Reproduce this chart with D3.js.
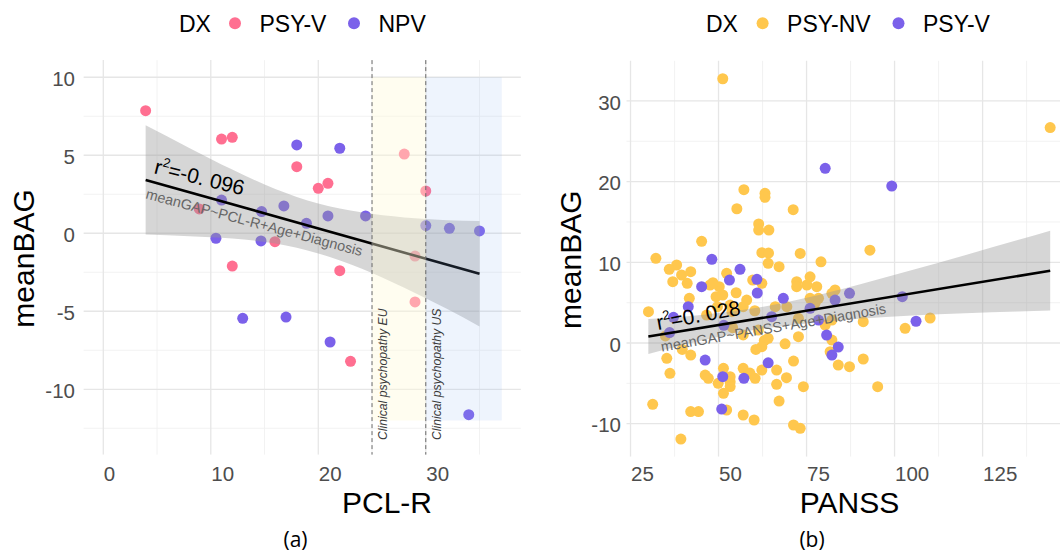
<!DOCTYPE html>
<html>
<head>
<meta charset="utf-8">
<script src="https://cdn.jsdelivr.net/npm/d3@7"></script>
<style>
  body { margin: 0; background: #fff; }
  svg { font-family: "Liberation Sans", Arial, sans-serif; }
</style>
</head>
<body>
<svg id="chart" width="1060" height="556"></svg>
<script>
// ---- panel (a): PCL-R vs meanBAG ----
const pclPsyV = [[3.94, 7.86], [11.0, 6.04], [12.0, 6.15], [18.0, 4.27], [20.0, 2.88], [20.9, 3.2],
  [8.93, 1.56], [15.97, -0.54], [12.0, -2.1], [28.0, 5.08], [30.0, 2.71], [29.0, -1.46],
  [22.0, -2.4], [29.0, -4.4], [23.0, -8.21]];
const pclNpv = [[18.0, 5.66], [22.0, 5.45], [11.0, 2.13], [14.73, 1.39], [16.8, 1.75], [18.9, 0.64],
  [20.9, 1.11], [24.4, 1.11], [10.48, -0.32], [14.67, -0.49], [30.0, 0.49], [32.2, 0.32],
  [35.0, 0.15], [12.97, -5.45], [17.0, -5.37], [21.1, -6.97], [34.0, -11.63]];
const pclFitX = [3.94, 35.0];
const pclFitY = [3.42, -2.6];
const pclBandX = [3.94, 8, 12, 16, 20, 24, 28, 32, 35];
const pclBandHi = [6.92, 5.47, 4.08, 2.84, 1.91, 1.34, 1.01, 0.84, 0.78];
const pclBandLo = [-0.08, -0.19, -0.34, -0.66, -1.29, -2.26, -3.49, -4.86, -5.98];
const pclTicks = [0, 10, 20, 30];
const pclMinor = [5, 15, 25, 35];
const bagTicksA = [-10, -5, 0, 5, 10];
const bagMinorA = [-12.5, -7.5, -2.5, 2.5, 7.5];
const cutoffs = [25, 30];
const cutoffLabels = ["Clinical psychopathy EU", "Clinical psychopathy US"];
const zoneX0 = [25, 30];
const zoneX1 = [30, 37.07];
const zoneY = [-12, 10];

// ---- panel (b): PANSS vs meanBAG ----
const panssNv = [[51.2, 32.75], [144.2, 26.7], [57.2, 19.0], [63.2, 18.55], [63.2, 18.05], [55.2, 16.64],
  [71.2, 16.52], [61.4, 14.75], [61.4, 14.0], [64.3, 14.0], [45.2, 12.6],
  [62.3, 11.2], [64.2, 11.15], [73.2, 11.1], [93.0, 11.5], [64.1, 9.88], [67.2, 9.46], [79.1, 10.07],
  [62.3, 7.4], [72.2, 7.6], [72.2, 6.98], [76.0, 8.2], [75.1, 7.19], [77.9, 6.98], [83.1, 6.57],
  [82.2, 6.16], [76.0, 5.54], [78.4, 5.54], [66.1, 4.5], [69.4, 4.5], [77.4, 4.92], [72.7, 3.06],
  [82.2, 2.85], [91.1, 2.64], [61.3, 1.61], [64.1, 0.58], [72.7, 0.78], [80.3, 2.23], [82.2, 0.37],
  [103.0, 1.82], [68.9, -0.1], [110.1, 3.1],
  [32.2, 10.5], [38.1, 9.67], [36.0, 9.13], [39.5, 8.43], [42.1, 8.84], [37.0, 7.6], [41.1, 7.4],
  [47.6, 7.19], [50.2, 6.98], [52.3, 8.64], [48.4, 7.47], [59.7, 7.8], [55.0, 6.23], [58.0, 5.33],
  [41.7, 5.54], [49.3, 5.74], [51.2, 5.95], [49.7, 4.5], [53.3, 4.7], [30.1, 3.88], [46.6, 3.47],
  [53.8, 3.88], [57.0, 4.5], [60.3, 4.0], [57.0, 1.0], [34.9, 0.88], [63.0, 0.3], [54.0, 1.9],
  [35.3, -1.9], [42.1, -1.49], [39.7, -0.8], [36.2, -3.75], [46.2, -3.97], [47.1, -4.38],
  [51.4, -3.14], [49.9, -5.0], [53.3, -4.79], [53.3, -4.17], [53.3, -5.4], [57.0, -3.14],
  [58.9, -3.73], [60.4, -4.38], [51.4, -6.23], [31.3, -7.6], [42.1, -8.5], [44.3, -8.5],
  [52.3, -8.3], [57.0, -8.92], [60.1, -9.54], [39.3, -11.9], [62.3, -0.46], [60.6, -0.8],
  [81.7, -1.08], [84.0, -2.73], [87.2, -2.93], [91.1, -1.98], [95.2, -5.41], [62.3, -3.35],
  [66.5, -3.35], [66.5, -5.12], [69.3, -4.3], [71.3, -2.23], [74.1, -5.41], [67.2, -7.19],
  [71.3, -10.16], [73.2, -10.57]];
const panssV = [[80.3, 21.65], [99.2, 19.45], [48.1, 10.37], [45.2, 6.98], [53.1, 7.8], [56.1, 9.13],
  [60.9, 7.9], [61.0, 6.2], [87.2, 6.16], [68.4, 5.54], [83.1, 5.33], [102.2, 5.74], [76.0, 4.3],
  [65.1, 3.26], [78.4, 2.85], [80.7, 0.99], [84.0, -0.5], [41.4, 4.5], [37.2, 3.18], [36.1, 1.3],
  [51.5, 2.2], [106.1, 2.7], [46.2, -2.11], [51.2, -4.17], [57.2, -4.38], [50.9, -8.18],
  [64.1, -2.45], [82.2, -1.49]];
const panssFitX = [30.06, 144.2];
const panssFitY = [0.8, 8.96];
const panssBandX = [30.06, 45, 60, 75, 90, 105, 120, 135, 144.2];
const panssBandHi = [2.97, 3.47, 4.3, 5.62, 7.26, 9.04, 10.89, 12.76, 13.91];
const panssBandLo = [-1.37, 0.27, 1.6, 2.42, 3.0, 3.4, 3.7, 3.9, 4.03];
const panssTicks = [25, 50, 75, 100, 125];
const panssMinor = [37.5, 62.5, 87.5, 112.5, 137.5];
const bagTicksB = [-10, 0, 10, 20, 30];
const bagMinorB = [-5, 5, 15, 25];

const FONT = '"Liberation Sans", Arial, sans-serif';
const PINK = "#FF6F91", PURPLE = "#7B61EA", YELLOW = "#FFC74D";

const svg = d3.select("#chart");

function drawPanel(o) {
  const x = d3.scaleLinear().domain(o.xDomain).range(o.xRange);
  const y = d3.scaleLinear().domain(o.yDomain).range(o.yRange);
  const [left, right] = o.xRange, [bottom, top] = o.yRange;

  svg.append("clipPath").attr("id", o.id)
    .append("rect").attr("x", left).attr("y", top)
    .attr("width", right - left).attr("height", bottom - top);
  const plot = svg.append("g").attr("clip-path", `url(#${o.id})`);

  // grid
  plot.selectAll(null).data(o.xMinor).join("line")
    .attr("x1", d => x(d)).attr("x2", d => x(d)).attr("y1", top).attr("y2", bottom)
    .attr("stroke", "#f0f0f0").attr("stroke-width", 0.9);
  plot.selectAll(null).data(o.yMinor).join("line")
    .attr("y1", d => y(d)).attr("y2", d => y(d)).attr("x1", left).attr("x2", right)
    .attr("stroke", "#f0f0f0").attr("stroke-width", 0.9);
  plot.selectAll(null).data(o.xTicks).join("line")
    .attr("x1", d => x(d)).attr("x2", d => x(d)).attr("y1", top).attr("y2", bottom)
    .attr("stroke", "#e6e6e6").attr("stroke-width", 1.3);
  plot.selectAll(null).data(o.yTicks).join("line")
    .attr("y1", d => y(d)).attr("y2", d => y(d)).attr("x1", left).attr("x2", right)
    .attr("stroke", "#e6e6e6").attr("stroke-width", 1.3);

  // points
  o.groups.forEach(gr => {
    plot.append("g").selectAll("circle").data(gr.data).join("circle")
      .attr("cx", d => x(d[0])).attr("cy", d => y(d[1])).attr("r", 5.5)
      .attr("fill", gr.color);
  });

  // confidence band + fit
  const band = d3.zip(o.bandX, o.bandLo, o.bandHi);
  plot.append("path").datum(band)
    .attr("d", d3.area().x(d => x(d[0])).y0(d => y(d[1])).y1(d => y(d[2])).curve(d3.curveMonotoneX))
    .attr("fill", "#999").attr("fill-opacity", 0.4);
  plot.append("path").datum(d3.zip(o.fitX, o.fitY))
    .attr("d", d3.line().x(d => x(d[0])).y(d => y(d[1])))
    .attr("stroke", "#000").attr("stroke-width", 2.6).attr("fill", "none");

  // axes (plain hyphen minus, as in the figure)
  const fmt = d => String(d);
  const ax = svg.append("g").attr("transform", `translate(0,${bottom})`)
    .call(d3.axisBottom(x).tickValues(o.xTicks).tickFormat(fmt).tickSize(0).tickPadding(0))
    .attr("font-family", FONT).attr("font-size", 20.5).attr("color", "#4d4d4d");
  ax.select(".domain").remove();
  ax.selectAll("text").attr("text-anchor", "start").attr("y", o.xLabelDy).attr("dy", 0);

  const ay = svg.append("g").attr("transform", `translate(${o.yLabelX},0)`)
    .call(d3.axisLeft(y).tickValues(o.yTicks).tickFormat(fmt).tickSize(0).tickPadding(0))
    .attr("font-family", FONT).attr("font-size", 20.5).attr("color", "#4d4d4d");
  ay.select(".domain").remove();
  ay.selectAll("text").attr("dy", "0.4em");

  // titles
  svg.append("text").attr("x", o.xTitleX).attr("y", 513)
    .attr("text-anchor", "middle").attr("font-size", 30).text(o.xTitle);
  svg.append("text")
    .attr("transform", `translate(${o.yTitleX},${(top + bottom) / 2 + 1}) rotate(-90)`)
    .attr("text-anchor", "middle").attr("font-size", 30).text("meanBAG");

  // annotation
  const r = o.r2;
  const rt = svg.append("text")
    .attr("transform", `translate(${x(r.x)},${y(r.y)}) rotate(${r.angle})`)
    .attr("font-size", 21).attr("fill", "#000");
  rt.append("tspan").text("r");
  rt.append("tspan").attr("font-size", 13).attr("dy", -9).text("2");
  rt.append("tspan").attr("dy", 9).text(r.text);
  const f = o.formula;
  svg.append("text")
    .attr("transform", `translate(${x(f.x)},${y(f.y)}) rotate(${f.angle})`)
    .attr("font-size", 14.4).attr("fill", "#666").text(f.text);

  // legend
  svg.append("text").attr("x", o.legendX).attr("y", 31.5).attr("font-size", 23).text("DX");
  o.groups.forEach(gr => {
    svg.append("circle").attr("cx", gr.legendDot).attr("cy", 23.3).attr("r", 6).attr("fill", gr.color);
    svg.append("text").attr("x", gr.legendDot + 24.5).attr("y", 31.5).attr("font-size", 23).text(gr.name);
  });

  return { x, y, plot, top, bottom };
}

const A = drawPanel({
  id: "clipA", xDomain: [-1.85, 38.85], xRange: [83.4, 520.9],
  yDomain: [-14.2, 11.1], yRange: [454.8, 60.1],
  xTicks: pclTicks, xMinor: pclMinor, yTicks: bagTicksA, yMinor: bagMinorA,
  groups: [
    { name: "PSY-V", color: PINK, data: pclPsyV, legendDot: 235 },
    { name: "NPV", color: PURPLE, data: pclNpv, legendDot: 354 }
  ],
  bandX: pclBandX, bandLo: pclBandLo, bandHi: pclBandHi, fitX: pclFitX, fitY: pclFitY,
  xLabelDy: 26.5, yLabelX: 75, xTitle: "PCL-R", xTitleX: 387, yTitleX: 34,
  r2: { x: 4.65, y: 3.85, angle: 14, text: "=-0. 096" },
  formula: { x: 3.88, y: 2.24, angle: 15, text: "meanGAP~PCL-R+Age+Diagnosis" },
  legendX: 179
});

// clinical zones drawn over the data of panel (a)
A.plot.selectAll(".zone").data(d3.zip(zoneX0, zoneX1, ["#FFFAD9", "#8CB4F0"], [0.4, 0.15])).join("rect")
  .attr("x", d => A.x(d[0])).attr("width", d => A.x(d[1]) - A.x(d[0]))
  .attr("y", A.y(zoneY[1])).attr("height", A.y(zoneY[0]) - A.y(zoneY[1]))
  .attr("fill", d => d[2]).attr("fill-opacity", d => d[3]);
A.plot.selectAll(".cut").data(cutoffs).join("line")
  .attr("x1", d => A.x(d)).attr("x2", d => A.x(d)).attr("y1", A.top).attr("y2", A.bottom)
  .attr("stroke", "#6b6b6b").attr("stroke-width", 1).attr("stroke-dasharray", "4,3");
svg.selectAll(".cutlab").data(d3.zip(cutoffs, cutoffLabels)).join("text")
  .attr("transform", d => `translate(${A.x(d[0]) + 15},${A.y(-13.25)}) rotate(-90)`)
  .attr("font-size", 12.2).attr("font-style", "italic").attr("fill", "#3a3a3a").text(d => d[1]);

drawPanel({
  id: "clipB", xDomain: [23.8, 150], xRange: [626.3, 1070.6],
  yDomain: [-14.1, 35.0], yRange: [456.8, 60.6],
  xTicks: panssTicks, xMinor: panssMinor, yTicks: bagTicksB, yMinor: bagMinorB,
  groups: [
    { name: "PSY-NV", color: YELLOW, data: panssNv, legendDot: 762.6 },
    { name: "PSY-V", color: PURPLE, data: panssV, legendDot: 898.5 }
  ],
  bandX: panssBandX, bandLo: panssBandLo, bandHi: panssBandHi, fitX: panssFitX, fitY: panssFitY,
  xLabelDy: 24.5, yLabelX: 621, xTitle: "PANSS", xTitleX: 849.5, yTitleX: 581,
  r2: { x: 32.8, y: 1.61, angle: -10.5, text: "=0. 028" },
  formula: { x: 33.9, y: -1.08, angle: -9.7, text: "meanGAP~PANSS+Age+Diagnosis" },
  legendX: 706
});

// sub-figure captions
svg.selectAll(".cap").data([["(a)", 295.5], ["(b)", 812]]).join("text")
  .attr("x", d => d[1]).attr("y", 547).attr("text-anchor", "middle")
  .attr("font-family", '"Open Sans", sans-serif').attr("font-size", 21).text(d => d[0]);
</script>
</body>
</html>
